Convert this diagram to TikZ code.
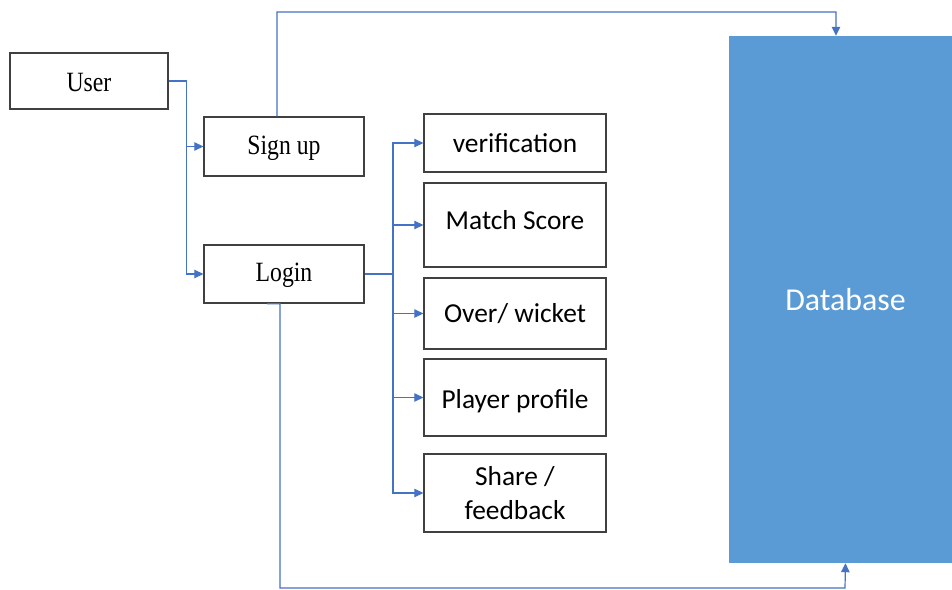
\documentclass[tikz,border=0pt]{standalone}
\usepackage{fontspec}
\setmainfont{Carlito}
\newfontfamily\boxserif[FakeStretch=0.85]{Liberation Serif}
\usepackage{tikz}
\usetikzlibrary{arrows.meta,positioning}
\definecolor{linkblue}{RGB}{68,114,196}
\definecolor{dbblue}{RGB}{91,155,213}
\definecolor{boxgray}{RGB}{64,64,64}

\tikzset{
    entrybox/.style={draw=boxgray, line width=1.3bp, minimum width=160bp, inner sep=0pt,
        text height=22bp, font=\boxserif\fontsize{28}{30}\selectfont},
    featbox/.style={draw=boxgray, line width=1.3bp, minimum width=182bp, inner sep=0pt,
        align=center, font=\fontsize{27.5}{34}\selectfont},
    link/.style={draw=linkblue, line width=1.2bp, -{Triangle[length=9bp,width=8.5bp]}},
    plain/.style={draw=linkblue, line width=1.2bp}
}

\begin{document}
\begin{tikzpicture}[x=1bp, y=-1bp]
    \useasboundingbox (0,0) rectangle (952,590);
    % left column
    \node[entrybox, minimum width=158bp, minimum height=56bp] (user) at (89,81) {User};
    \node[entrybox, minimum height=59bp] (signup) at (284,146.5) {Sign up};
    \node[entrybox, minimum height=58bp] (login) at (284,274) {Login};
    % features
    \node[featbox, minimum height=58bp] (verif) at (515,143) {verification};
    \node[featbox, minimum height=84bp, text depth=10bp] (score) at (515,225) {Match Score};
    \node[featbox, minimum height=71bp] (overs) at (515,313.5) {Over/ wicket};
    \node[featbox, minimum height=77bp, text height=27bp] (profile) at (515,397.5) {Player profile};
    \node[featbox, minimum height=78bp] (share) at (515,493) {Share /\\feedback};
    % database
    \node[fill=dbblue, minimum width=233bp, minimum height=527bp, inner sep=0pt,
        text=white, font=\fontsize{32}{36}\selectfont] (db) at (845.5,299.5) {Database};

    \coordinate (trunk) at (393,274);
    \coordinate (topbend) at (836,12);
    \coordinate (botbend) at (845,588);

    \draw[link] (user.east) -- ++(18,0) |- (signup.west);
    \draw[link] (user.east) -- ++(18,0) |- (login.west);
    \draw[plain] (login.east) -- (trunk);
    \foreach \f in {verif,score,overs,profile,share}
        \draw[link] (trunk) |- (\f.west);
    \draw[link] ([xshift=-7bp]signup.north) |- (topbend) -- ([xshift=-9.5bp]db.north);
    \draw[link] ([xshift=-17bp]login.south) -- ([xshift=-4bp]login.south) |- (botbend) -- (db.south);
\end{tikzpicture}
\end{document}
